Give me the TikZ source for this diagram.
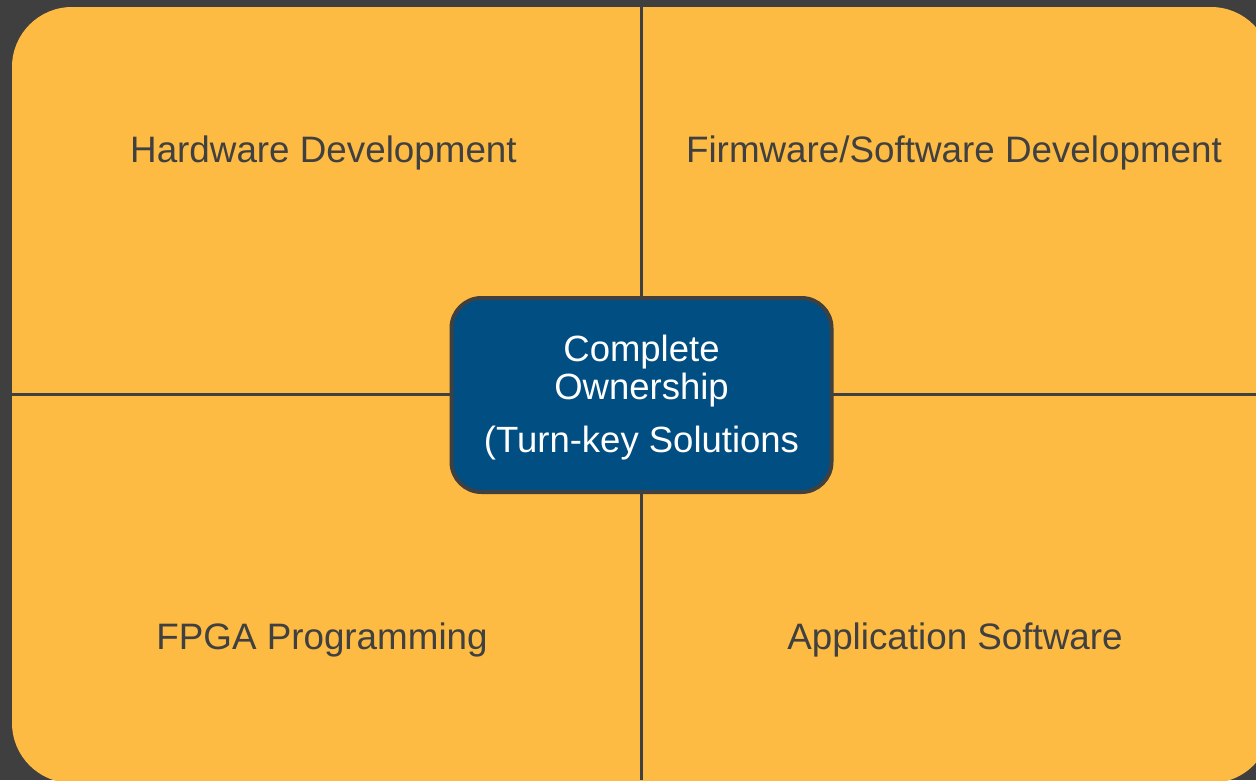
\documentclass[tikz,border=0pt]{standalone}
\usepackage{fontspec}
\setmainfont{Liberation Sans}
\usetikzlibrary{positioning}
\definecolor{bgGray}{HTML}{3F3F3F}
\definecolor{quadOrange}{HTML}{FDBB43}
\definecolor{coreBlue}{HTML}{004E82}
\definecolor{lineGray}{HTML}{404040}
\tikzset{
  quadlabel/.style={text=lineGray, font=\fontsize{36.8}{38}\selectfont, anchor=center},
  corebox/.style={draw=lineGray, line width=4pt, fill=coreBlue, rounded corners=30pt,
    minimum width=380pt, minimum height=194pt, text=white, align=center,
    font=\fontsize{36.5}{38}\selectfont, inner sep=0pt},
  divider/.style={draw=lineGray, line width=3pt}
}
\begin{document}
\begin{tikzpicture}[x=1pt,y=-1pt]
		%%%%% START %%%%%
		
		\clip (0, 0) rectangle (1256, 780);
		\fill[bgGray] (0, 0) rectangle (1256, 780);
		\fill[quadOrange, rounded corners=60pt] (12, 7) rectangle (1271, 783);
		
		\draw[divider] (641, 7) -- (641, 780);
		\draw[divider] (12, 394) -- (1256, 394);
		
		\node[quadlabel] (hardware) at (323.5, 152.5) {Hardware Development};
		\node[quadlabel] (firmware) at (954, 152.5) {Firmware/Software Development};
		\node[quadlabel] (fpga) at (322, 639.5) {FPGA Programming};
		\node[quadlabel] (appsoft) at (955, 639.5) {Application Software};
		
		\node[corebox] (core) at (641.5, 395) {};
		\node[text=white, align=center, font=\fontsize{36.5}{38}\selectfont, inner sep=0pt]
		  (coretext) at (641.5, 398) {Complete\\Ownership\\[15pt](Turn-key Solutions};
		
		%%%%% END %%%%%
\end{tikzpicture}
\end{document}
